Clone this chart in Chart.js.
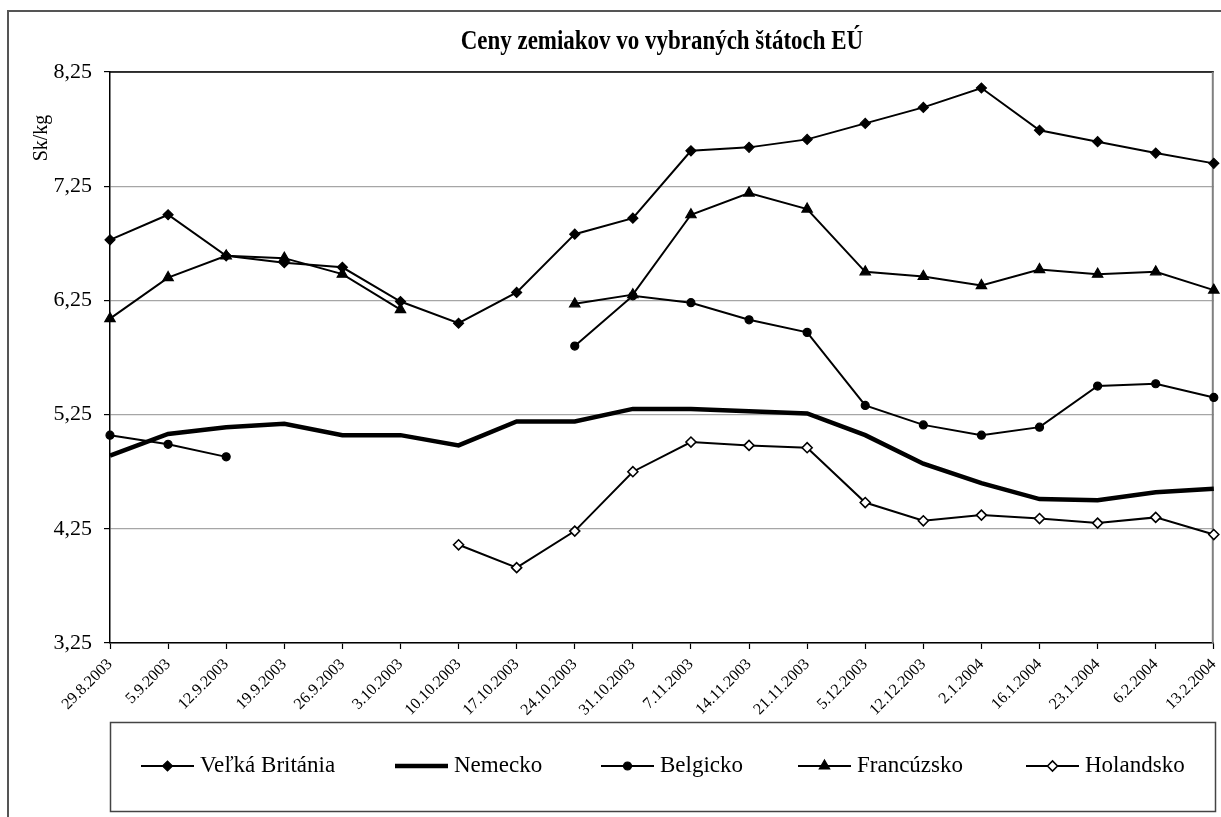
<!DOCTYPE html>
<html>
<head>
<meta charset="utf-8">
<script src="https://cdn.jsdelivr.net/npm/chart.js@4.4.1/dist/chart.umd.min.js"></script>
<style>
  body { margin: 0; background: #fff; }
  canvas { display: block; }
</style>
</head>
<body>
<canvas id="myChart" width="1221" height="817"></canvas>
<script>
const labels = [
  '29.8.2003', '5.9.2003', '12.9.2003', '19.9.2003', '26.9.2003',
  '3.10.2003', '10.10.2003', '17.10.2003', '24.10.2003', '31.10.2003',
  '7.11.2003', '14.11.2003', '21.11.2003', '5.12.2003', '12.12.2003',
  '2.1.2004', '16.1.2004', '23.1.2004', '6.2.2004', '13.2.2004'
];
const velkaBritania = [6.78, 7.00, 6.64, 6.58, 6.54, 6.24, 6.05, 6.32, 6.83, 6.97, 7.56, 7.59, 7.66, 7.80, 7.94, 8.11, 7.74, 7.64, 7.54, 7.45];
const nemecko = [4.89, 5.08, 5.14, 5.17, 5.07, 5.07, 4.98, 5.19, 5.19, 5.30, 5.30, 5.28, 5.26, 5.07, 4.82, 4.65, 4.51, 4.50, 4.57, 4.60];
const belgicko = [5.07, 4.99, 4.88, null, null, null, null, null, 5.85, 6.29, 6.23, 6.08, 5.97, 5.33, 5.16, 5.07, 5.14, 5.50, 5.52, 5.40];
const francuzsko = [6.09, 6.45, 6.64, 6.62, 6.48, 6.17, null, null, 6.22, 6.30, 7.00, 7.19, 7.05, 6.50, 6.46, 6.38, 6.52, 6.48, 6.50, 6.34];
const holandsko = [null, null, null, null, null, null, 4.11, 3.91, 4.23, 4.75, 5.01, 4.98, 4.96, 4.48, 4.32, 4.37, 4.34, 4.30, 4.35, 4.20];
const yTickLabels = ['3,25', '4,25', '5,25', '6,25', '7,25', '8,25'];

const serif = '"Liberation Serif", "Times New Roman", serif';

function drawMarker(ctx, style, r, x, y, fill, bw) {
  ctx.beginPath();
  if (style === 'rectRot') {
    ctx.moveTo(x - r, y); ctx.lineTo(x, y - r); ctx.lineTo(x + r, y); ctx.lineTo(x, y + r);
    ctx.closePath();
  } else if (style === 'triangle') {
    ctx.moveTo(x, y - r);
    ctx.lineTo(x + r * 0.866, y + r * 0.5);
    ctx.lineTo(x - r * 0.866, y + r * 0.5);
    ctx.closePath();
  } else {
    ctx.arc(x, y, r, 0, Math.PI * 2);
  }
  ctx.fillStyle = fill;
  ctx.fill();
  ctx.lineWidth = bw;
  ctx.strokeStyle = '#000';
  ctx.stroke();
}

// frame, title, axis title, plot border and legend box
const decorations = {
  id: 'decorations',
  beforeDatasetsDraw(chart) {
    const {ctx, chartArea} = chart;
    ctx.save();
    ctx.strokeStyle = '#000';
    ctx.lineWidth = 1.5;
    ctx.beginPath();
    ctx.moveTo(chartArea.left, chartArea.top);
    ctx.lineTo(chartArea.right, chartArea.top);
    ctx.stroke();
    ctx.strokeStyle = '#808080';
    ctx.lineWidth = 2;
    ctx.beginPath();
    ctx.moveTo(chartArea.right - 1, chartArea.top);
    ctx.lineTo(chartArea.right - 1, chartArea.bottom);
    ctx.stroke();
    ctx.restore();
  },
  afterDraw(chart) {
    const {ctx, chartArea} = chart;
    ctx.save();
    // outer frame
    ctx.strokeStyle = '#555';
    ctx.lineWidth = 2;
    ctx.strokeRect(8, 11, 1240, 840);

    // title (narrowed like the original)
    ctx.fillStyle = '#000';
    ctx.textAlign = 'center';
    ctx.textBaseline = 'middle';
    ctx.save();
    ctx.translate((chartArea.left + chartArea.right) / 2, 42);
    ctx.scale(0.82, 1);
    ctx.font = 'bold 28px ' + serif;
    ctx.fillText('Ceny zemiakov vo vybraných štátoch EÚ', 0, 0);
    ctx.restore();

    // y axis title
    ctx.save();
    ctx.translate(42, 138);
    ctx.rotate(-Math.PI / 2);
    ctx.font = '20px ' + serif;
    ctx.fillText('Sk/kg', 0, 0);
    ctx.restore();

    // legend
    ctx.strokeStyle = '#444';
    ctx.lineWidth = 1.5;
    ctx.strokeRect(110.5, 722.5, 1105, 89);
    const starts = [141, 395, 601, 798, 1026];
    const ly = 766;
    ctx.font = '23px ' + serif;
    ctx.textAlign = 'left';
    chart.data.datasets.forEach((ds, i) => {
      const x0 = starts[i];
      ctx.strokeStyle = '#000';
      ctx.lineWidth = ds.borderWidth;
      ctx.beginPath();
      ctx.moveTo(x0, ly);
      ctx.lineTo(x0 + 53, ly);
      ctx.stroke();
      if (ds.pointRadius > 0) {
        drawMarker(ctx, ds.pointStyle, ds.pointRadius, x0 + 26.5, ly, ds.pointBackgroundColor, ds.pointBorderWidth);
      }
      ctx.fillStyle = '#000';
      ctx.fillText(ds.label, x0 + 59, ly);
    });
    ctx.restore();
  }
};

function series(label, data, style, radius, fill, width, pbw) {
  return {
    label: label,
    data: data,
    borderColor: '#000',
    borderWidth: width,
    pointStyle: style,
    pointRadius: radius,
    pointBackgroundColor: fill,
    pointBorderColor: '#000',
    pointBorderWidth: pbw,
    tension: 0,
    spanGaps: false,
    fill: false
  };
}

const data = {
  labels: labels,
  datasets: [
    series('Veľká Británia', velkaBritania, 'rectRot', 5, '#000', 2, 1.2),
    series('Nemecko', nemecko, 'circle', 0, '#000', 4.5, 1.2),
    series('Belgicko', belgicko, 'circle', 4, '#000', 2, 1.2),
    series('Francúzsko', francuzsko, 'triangle', 6, '#000', 2, 1.2),
    series('Holandsko', holandsko, 'rectRot', 5, '#fff', 2, 1.6)
  ]
};

const config = {
  type: 'line',
  data: data,
  options: {
    responsive: false,
    animation: false,
    layout: { padding: { top: 72, left: 0, right: 3, bottom: 99 } },
    plugins: {
      legend: { display: false },
      title: { display: false },
      tooltip: { enabled: false }
    },
    scales: {
      x: {
        offset: false,
        grid: { drawOnChartArea: false, tickLength: 6, tickColor: '#000', tickWidth: 1.2 },
        border: { color: '#000', width: 1.5 },
        ticks: {
          autoSkip: false,
          minRotation: 45,
          maxRotation: 45,
          padding: 6,
          color: '#000',
          font: { family: serif, size: 16 }
        },
        afterFit(scale) {
          scale.height = 75;
          scale.paddingLeft = 0;
          scale.paddingRight = 0;
        }
      },
      y: {
        min: 3.25,
        max: 8.25,
        grid: { color: '#a6a6a6', lineWidth: 1.2, tickLength: 6, tickColor: '#000', tickWidth: 1.2 },
        border: { color: '#000', width: 1.5 },
        ticks: {
          stepSize: 1,
          padding: 12,
          color: '#000',
          font: { family: serif, size: 22 },
          callback: (v, i) => yTickLabels[i]
        },
        afterFit(scale) {
          scale.width = 110;
        }
      }
    }
  },
  plugins: [decorations]
};

var myChart = new Chart(document.getElementById('myChart'), config);
</script>
</body>
</html>
